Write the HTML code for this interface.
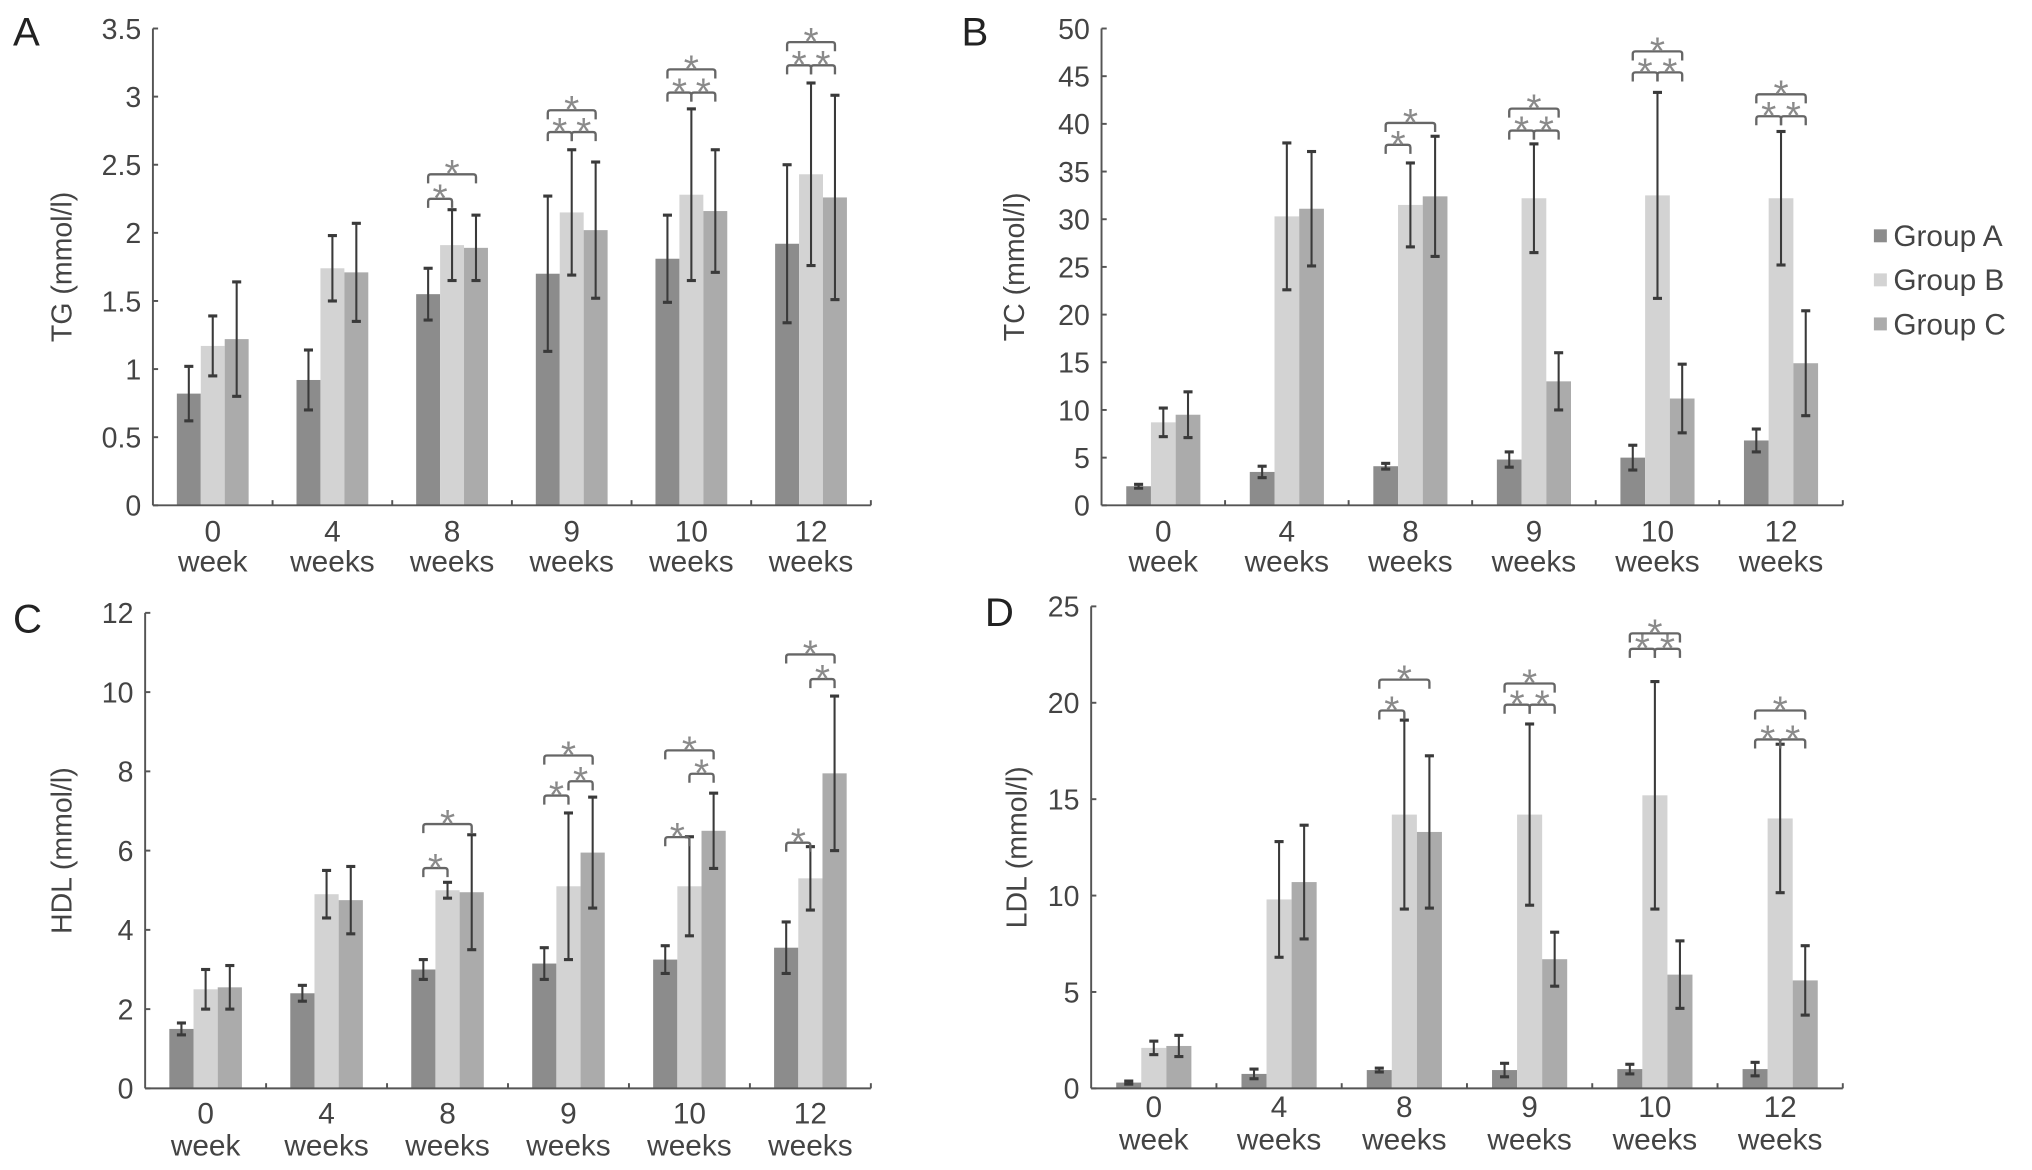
<!DOCTYPE html>
<html><head><meta charset="utf-8"><style>
html,body{margin:0;padding:0;background:#fff;}
svg{display:block;font-family:"Liberation Sans",sans-serif;}
</style></head><body>
<svg id="fig" width="2032" height="1170" viewBox="0 0 1568 903" preserveAspectRatio="none" xmlns="http://www.w3.org/2000/svg"></svg>
<script>
const categories = ["0","4","8","9","10","12"];
const catSub = ["week","weeks","weeks","weeks","weeks","weeks"];
const groups = ["Group A","Group B","Group C"];
const colors = ["#8c8c8c","#d3d3d3","#ababab"];

const tgMean = [[0.82,0.92,1.55,1.70,1.81,1.92],[1.17,1.74,1.91,2.15,2.28,2.43],[1.22,1.71,1.89,2.02,2.16,2.26]];
const tgErr  = [[0.20,0.22,0.19,0.57,0.32,0.58],[0.22,0.24,0.26,0.46,0.63,0.67],[0.42,0.36,0.24,0.50,0.45,0.75]];
const tgTicks = [0,0.5,1,1.5,2,2.5,3,3.5];
const tgBrackets = [[2,0,1,2.25],[2,0,2,2.43],[3,0,1,2.74],[3,1,2,2.74],[3,0,2,2.90],[4,0,1,3.03],[4,1,2,3.03],[4,0,2,3.20],[5,0,1,3.23],[5,1,2,3.23],[5,0,2,3.40]];

const tcMean = [[2.0,3.5,4.1,4.8,5.0,6.8],[8.7,30.3,31.5,32.2,32.5,32.2],[9.5,31.1,32.4,13.0,11.2,14.9]];
const tcErr  = [[0.2,0.6,0.3,0.8,1.3,1.2],[1.5,7.7,4.4,5.7,10.8,7.0],[2.4,6.0,6.3,3.0,3.6,5.5]];
const tcTicks = [0,5,10,15,20,25,30,35,40,45,50];
const tcBrackets = [[2,0,1,37.8],[2,0,2,40.1],[3,0,1,39.3],[3,1,2,39.3],[3,0,2,41.6],[4,0,1,45.4],[4,1,2,45.4],[4,0,2,47.6],[5,0,1,40.8],[5,1,2,40.8],[5,0,2,43.1]];

const hdlMean = [[1.5,2.4,3.0,3.15,3.25,3.55],[2.5,4.9,5.0,5.1,5.1,5.3],[2.55,4.75,4.95,5.95,6.5,7.95]];
const hdlErr  = [[0.15,0.2,0.25,0.4,0.35,0.65],[0.5,0.6,0.2,1.85,1.25,0.8],[0.55,0.85,1.45,1.4,0.95,1.95]];
const hdlTicks = [0,2,4,6,8,10,12];
const hdlBrackets = [[2,0,1,5.56],[2,0,2,6.67],[3,0,1,7.39],[3,1,2,7.75],[3,0,2,8.4],[4,0,1,6.34],[4,1,2,7.94],[4,0,2,8.53],[5,0,1,6.2],[5,1,2,10.33],[5,0,2,10.95]];

const ldlMean = [[0.3,0.75,0.95,0.95,1.0,1.0],[2.1,9.8,14.2,14.2,15.2,14.0],[2.2,10.7,13.3,6.7,5.9,5.6]];
const ldlErr  = [[0.08,0.25,0.1,0.35,0.25,0.35],[0.35,3.0,4.9,4.7,5.9,3.85],[0.55,2.95,3.95,1.4,1.75,1.8]];
const ldlTicks = [0,5,10,15,20,25];
const ldlBrackets = [[2,0,1,19.6],[2,0,2,21.2],[3,0,1,19.9],[3,1,2,19.9],[3,0,2,21.0],[4,0,1,22.8],[4,1,2,22.8],[4,0,2,23.6],[5,0,1,18.1],[5,1,2,18.1],[5,0,2,19.6]];

const NS="http://www.w3.org/2000/svg";
const svg=document.getElementById('fig');
function mk(tag,attrs,parent,text){const e=document.createElementNS(NS,tag);for(const k in attrs)e.setAttribute(k,attrs[k]);if(text!==undefined)e.textContent=text;(parent||svg).appendChild(e);return e;}

function panel(cfg){
  const g=mk('g',{});
  
  
  const x0=cfg.x0,x1=cfg.x1,yb=cfg.yb,yt=cfg.yt,vmax=cfg.ticks[cfg.ticks.length-1];
  const y=v=>yb-(v/vmax)*(yb-yt);
  const step=(x1-x0)/categories.length;
  const cx=i=>x0+step*(i+0.5);
  const bw=step*0.2;
  const bx=(i,k)=>cx(i)-1.5*bw+k*bw;
  const L=mk('text',{x:cfg.lx,y:cfg.ly,'font-size':31,fill:'#222'},g,cfg.letter);
  
  
  for(let k=0;k<3;k++){for(let i=0;i<categories.length;i++){
    const v=cfg.mean[k][i];
    const r=mk('rect',{x:bx(i,k),y:y(v),width:bw,height:yb-y(v),fill:colors[k]},g);
    
    
  }}
  for(let k=0;k<3;k++){for(let i=0;i<categories.length;i++){
    const v=cfg.mean[k][i],e=cfg.err[k][i],xc=bx(i,k)+bw/2;
    const eg=mk('g',{stroke:'#3a3a3a','stroke-width':1.6},g);
    
    
    mk('line',{x1:xc,x2:xc,y1:y(v-e),y2:y(v+e)},eg);
    mk('line',{x1:xc-3.5,x2:xc+3.5,y1:y(v-e),y2:y(v-e),'stroke-width':2.4},eg);
    mk('line',{x1:xc-3.5,x2:xc+3.5,y1:y(v+e),y2:y(v+e),'stroke-width':2.4},eg);
  }}
  cfg.brackets.forEach(b=>{
    const i=b[0],a=b[1],c=b[2],yy=y(b[3]);
    const xa=bx(i,a)+bw/2, xc2=bx(i,c)+bw/2;
    const bg=mk('g',{},g);
    
    
    mk('path',{d:`M${xa} ${yy+7} L${xa} ${yy+2} Q${xa} ${yy} ${xa+2} ${yy} L${xc2-2} ${yy} Q${xc2} ${yy} ${xc2} ${yy+2} L${xc2} ${yy+7}`,fill:'none',stroke:'#666','stroke-width':1.8},bg);
    mk('text',{x:(xa+xc2)/2,y:yy+10,'font-size':30,fill:'#8a8a8a','text-anchor':'middle'},bg,'*');
  });
  const ax=mk('g',{stroke:'#555','stroke-width':1.5},g);
  
  
  mk('line',{x1:x0,x2:x0,y1:yt,y2:yb},ax);
  mk('line',{x1:x0,x2:x1,y1:yb,y2:yb},ax);
  for(let i=1;i<=categories.length;i++)mk('line',{x1:x0+step*i,x2:x0+step*i,y1:yb,y2:yb-4},ax);
  cfg.ticks.forEach(t=>{
    mk('line',{x1:x0,x2:x0+4,y1:y(t),y2:y(t)},ax);
    const tl=mk('text',{x:x0-9,y:y(t)+8,'font-size':22,fill:'#444','text-anchor':'end'},g,String(t));
    
    
  });
  categories.forEach((c,i)=>{
    const t1=mk('text',{x:cx(i),y:yb+cfg.xl1,'font-size':23,fill:'#444','text-anchor':'middle'},g,c);
    
    
    const t2=mk('text',{x:cx(i),y:yb+cfg.xl2,'font-size':23,fill:'#444','text-anchor':'middle'},g,catSub[i]);
    
    
  });
  const tt=mk('text',{x:0,y:0,'font-size':22,fill:'#444','text-anchor':'middle',transform:`translate(${cfg.tx},${(yt+yb)/2}) rotate(-90)`},g,cfg.title);
  
  
}

panel({name:'panel-a-tg',letter:'A',lx:10,ly:35,x0:118,x1:672,yt:22,yb:390,ticks:tgTicks,mean:tgMean,err:tgErr,brackets:tgBrackets,title:'TG (mmol/l)',tx:55,xl1:28,xl2:51});
panel({name:'panel-b-tc',letter:'B',lx:742,ly:35,x0:850,x1:1422,yt:22,yb:390,ticks:tcTicks,mean:tcMean,err:tcErr,brackets:tcBrackets,title:'TC (mmol/l)',tx:790,xl1:28,xl2:51});
panel({name:'panel-c-hdl',letter:'C',lx:10,ly:488,x0:112,x1:672,yt:473,yb:840,ticks:hdlTicks,mean:hdlMean,err:hdlErr,brackets:hdlBrackets,title:'HDL (mmol/l)',tx:55,xl1:27,xl2:52});
panel({name:'panel-d-ldl',letter:'D',lx:760,ly:483,x0:842,x1:1422,yt:468,yb:840,ticks:ldlTicks,mean:ldlMean,err:ldlErr,brackets:ldlBrackets,title:'LDL (mmol/l)',tx:792,xl1:22,xl2:47});

const lg=mk('g',{});


groups.forEach((gname,k)=>{
  const yy=182+k*34;
  const e=mk('g',{},lg);
  
  
  mk('rect',{x:1446,y:yy-5,width:10,height:10,fill:colors[k]},e);
  mk('text',{x:1461,y:yy+8,'font-size':23,fill:'#444'},e,gname);
});
</script>
</body></html>
